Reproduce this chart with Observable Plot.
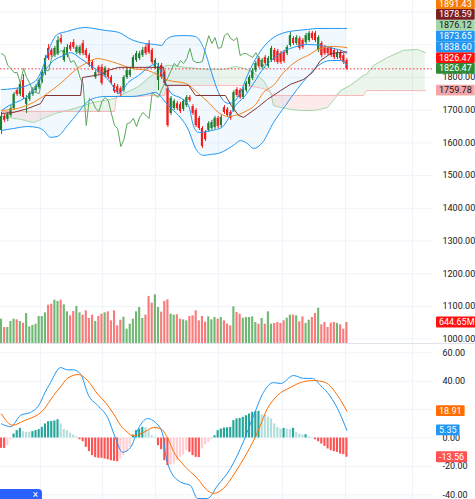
<!DOCTYPE html>
<html><head><meta charset="utf-8">
<script src="https://cdn.jsdelivr.net/npm/d3@7"></script>
<script src="https://cdn.jsdelivr.net/npm/@observablehq/plot@0.6"></script>
<style>
html,body{margin:0;padding:0;background:#fff;}
#wrap{position:relative;width:475px;height:499px;overflow:hidden;font-family:Roboto,"Noto Sans",sans-serif;}
#wrap svg{position:absolute;left:0;}
#sep{position:absolute;left:0;top:343px;width:475px;height:1px;background:#e0e3eb;}
#btn{position:absolute;left:0;top:489px;width:42px;height:14px;background:#2962ff;border-radius:0 4px 0 0;color:#fff;font:10px Roboto,sans-serif;text-align:right;padding-right:4px;box-sizing:border-box;line-height:12px;}
</style></head><body><div id="wrap"><div id="sep"></div><div id="btn">×</div></div>
<script>
// ---------------- candles (bar index 0..110) ----------------
const opens = [1638,1681,1672,1684,1705,1760,1748,1791,1717,1733,
 1748,1760,1769,1788,1812,1889,1883,1867,1873,1919,
 1852,1867,1898,1907,1876,1873,1904,1883,1867,1846,
 1800,1831,1831,1806,1821,1800,1776,1772,1766,1760,
 1800,1806,1831,1852,1858,1867,1892,1904,1883,1831,
 1791,1837,1815,1766,1690,1705,1720,1717,1702,1714,
 1739,1711,1699,1675,1644,1632,1638,1644,1647,1675,
 1653,1708,1702,1693,1699,1763,1760,1739,1760,1779,
 1797,1821,1858,1831,1861,1834,1852,1883,1880,1873,
 1876,1873,1898,1919,1904,1919,1913,1907,1913,1935,
 1935,1883,1904,1892,1889,1889,1883,1861,1876,1867,1852];
const highs = [1693,1687,1693,1714,1754,1766,1785,1809,1745,1757,
 1769,1779,1797,1821,1867,1901,1889,1895,1925,1931,
 1892,1901,1907,1916,1898,1898,1913,1889,1873,1852,
 1821,1837,1840,1834,1828,1806,1782,1779,1772,1806,
 1828,1831,1867,1880,1880,1892,1901,1913,1889,1858,
 1843,1843,1821,1772,1742,1733,1727,1724,1733,1745,
 1745,1717,1705,1681,1650,1638,1665,1669,1681,1681,
 1684,1714,1708,1699,1760,1769,1766,1769,1788,1806,
 1828,1849,1864,1858,1867,1864,1895,1889,1886,1880,
 1883,1898,1938,1925,1928,1925,1919,1935,1941,1941,
 1941,1928,1910,1898,1895,1895,1889,1883,1883,1873,1858];
const lows = [1626,1662,1665,1678,1699,1742,1742,1733,1690,1727,
 1742,1754,1763,1782,1806,1852,1861,1861,1867,1901,
 1846,1861,1880,1886,1870,1867,1867,1858,1831,1821,
 1794,1809,1776,1800,1794,1776,1751,1748,1742,1754,
 1794,1800,1825,1846,1852,1861,1867,1870,1840,1825,
 1760,1794,1776,1647,1684,1699,1699,1690,1696,1708,
 1724,1684,1647,1638,1583,1604,1632,1638,1641,1644,
 1647,1687,1678,1669,1693,1739,1733,1733,1754,1772,
 1791,1815,1828,1825,1837,1828,1846,1846,1840,1840,
 1843,1867,1892,1898,1898,1883,1886,1901,1907,1913,
 1907,1876,1861,1867,1867,1861,1855,1855,1852,1840,1821];
const closes = [1681,1669,1687,1705,1748,1748,1779,1739,1736,1751,
 1763,1772,1791,1815,1858,1858,1867,1889,1913,1907,
 1883,1892,1886,1892,1892,1892,1873,1867,1837,1828,
 1815,1815,1782,1828,1800,1782,1757,1754,1751,1800,
 1821,1821,1861,1873,1873,1883,1873,1876,1846,1852,
 1834,1800,1782,1653,1736,1727,1705,1696,1727,1739,
 1730,1690,1653,1644,1589,1610,1659,1662,1675,1650,
 1678,1693,1684,1675,1754,1745,1739,1763,1782,1800,
 1821,1843,1834,1852,1843,1858,1889,1852,1846,1846,
 1849,1892,1928,1904,1922,1889,1892,1928,1935,1919,
 1913,1922,1867,1873,1873,1867,1861,1876,1858,1846,1826.47];
// volume, millions
const volumes = [747,491,491,675,747,726,675,624,921,512,
 552,593,829,829,941,1176,1207,1330,1289,1330,
 1187,972,849,982,1136,941,870,1003,767,870,
 675,829,900,941,972,696,1003,542,716,808,
 440,593,747,972,1105,767,870,1442,1238,1494,
 1105,962,1289,1340,900,870,880,747,726,696,
 829,849,1003,696,829,655,818,726,798,747,
 798,696,593,542,1125,951,900,777,798,798,
 818,644,593,767,593,972,593,614,644,614,
 696,777,870,870,849,665,818,614,716,798,
 921,1084,573,644,491,624,644,614,573,440,644.65];

// ---------------- indicator lines: [bar index] / [value] ----------------
const bandIdx = [0,3.8,8.3,11.5,13.4,15.6,17.8,21.0,24.2,26.8,29.3,33.1,37.3,41.4,45.9,49.0,51.0,52.2,54.1,56.4,59.6,61.8,64.3,66.9,69.1,72.3,74.2,76.1,78.3,80.3,83.1,86.6,90.4,94.3,97.5,100.6,104.8,108.0,110];
const bandUpper = [1763,1766,1776,1797,1837,1898,1932,1941,1950,1953,1950,1944,1938,1916,1904,1901,1898,1913,1925,1928,1928,1925,1892,1815,1754,1721,1727,1754,1806,1846,1889,1922,1938,1944,1947,1950,1950,1950,1950];
const bandLower = [1638,1644,1650,1647,1638,1617,1620,1653,1690,1721,1736,1742,1742,1742,1748,1754,1739,1724,1705,1684,1638,1583,1562,1565,1568,1583,1595,1607,1598,1583,1601,1662,1714,1766,1803,1834,1852,1852,1838.60];
const midIdx = [0,2.9,6.1,10.2,13.4,16.6,19.7,22.0,25.2,28.3,31.5,34.7,37.3,40.4,43.6,47.8,49.4,51.0,54.1,57.3,59.6,61.1,62.7,66.9,70.1,72.3,74.5,77.1,80.3,83.4,86.6,89.8,93.0,97.5,101.6,105.7,108.9,110];
const midVal = [1699,1717,1730,1760,1815,1852,1867,1876,1858,1837,1815,1785,1751,1785,1806,1837,1843,1812,1751,1736,1714,1653,1632,1638,1647,1675,1714,1739,1782,1828,1858,1880,1892,1901,1898,1889,1880,1873.65];
const maIdx = [0,6.1,10.2,14.6,18.8,24.2,27.4,30.6,33.8,36.9,41.4,46.8,53.2,58.6,62.7,65.9,69.1,72.3,75.5,78.3,80.9,83.4,86.6,89.8,94.3,97.5,101.6,105.7,110];
const maVal = [1699,1708,1724,1751,1782,1828,1846,1858,1852,1843,1828,1821,1791,1782,1751,1724,1693,1681,1687,1699,1717,1754,1776,1815,1852,1867,1889,1895,1891.43];
const kijunIdx = [0,3.8,8.3,12.4,14.0,25.2,25.8,31.5,33.8,37.3,51.6,52.2,59.6,61.8,71.3,73.2,75.5,77.1,81.5,84.7,88.9,92.0,96.2,99.0,101.6,104.8,110];
const kijunVal = [1690,1693,1705,1720,1745,1745,1800,1809,1821,1831,1831,1776,1776,1745,1745,1714,1684,1678,1708,1733,1760,1779,1794,1815,1852,1873,1878.59];
const cloudIdx = [0,6.1,10.2,14.0,17.2,21.0,25.2,29.3,34.7,36.0,36.6,41.1,43.6,47.8,51.0,51.9,52.5,54.1,58.6,65.0,71.3,74.5,77.1,80.3,83.4,85.7,86.6,90.4,95.2,99.4,103.8,106.4,108.0,111.1,115.3,116.2,118.5,122.9,128.0,132.5,135];
const spanA = [1681,1672,1662,1678,1690,1699,1711,1724,1733,1736,1739,1760,1772,1806,1831,1834,1837,1837,1831,1825,1825,1834,1828,1815,1791,1754,1714,1705,1699,1699,1708,1739,1760,1776,1806,1809,1837,1861,1883,1886,1876.12];
const spanB = [1696,1696,1696,1696,1696,1696,1696,1696,1696,1696,1742,1742,1742,1745,1745,1745,1776,1776,1776,1776,1776,1776,1776,1772,1766,1754,1745,1745,1745,1745,1745,1745,1745,1745,1745,1760,1760,1760,1760,1760,1759.78];
const chikouShift = 26;

// MACD pane
const macdIdx = [0,2.9,6.1,9.2,12.4,13.4,15.6,18.8,21.0,22.9,25.2,27.7,30.6,33.8,36.3,38.5,41.1,43.6,46.5,49.0,51.3,52.2,53.8,57.0,60.2,62.4,65.6,68.8,72.9,76.1,80.3,83.4,86.6,88.9,93.0,96.2,99.0,101.6,103.8,107.0,110];
const macdVal = [10,8,16,18,25,30,39,49.6,48,48,45,30,23,14.4,0,-10,-6.7,6.7,13.7,11,3,-11,-23,-31,-33.5,-42.6,-42.6,-33.5,-21.5,-7.4,15.8,32,39,38.4,44,42,42,37,32,20.8,5.35];
const signalIdx = [0,3.5,7.0,13.4,16.6,18.8,21.0,24.5,27.4,30.6,33.1,35.7,37.9,40.1,42.0,45.2,48.4,50.6,52.9,54.8,58.0,62.4,65.6,67.5,70.7,73.9,78.3,81.5,84.7,87.9,92.0,95.2,99.4,103.2,107.0,110];
const signalVal = [17,9,12,20,30,36,42,44.7,40.5,31,25,17,9,4,1.5,3.9,7.4,6.7,0,-9.5,-19,-28.5,-37,-39,-35.5,-26,-10,3.9,20.8,30,35.6,39,40.5,39,30,18.91];
const histVal = [-7.3,-7.3,-5.4,-1.2,2.8,5.2,6.8,4.5,4.0,4.0,
 4.5,5.2,5.9,7.5,9.9,11.5,11.7,12.0,12.9,9.9,
 5.9,5.2,3.5,2.1,0.9,-1.2,-2.6,-6.6,-9.6,-12.4,
 -13.8,-14.3,-14.3,-14.8,-15.3,-16.0,-16.4,-16.7,-14.8,-12.4,
 -9.6,-6.6,2.1,5.2,6.3,7.5,7.3,5.2,1.6,0.5,
 -5.4,-8.2,-16.0,-19.5,-19.0,-18.3,-16.0,-13.6,-12.0,-8.9,
 -10.1,-12.4,-13.6,-13.8,-7.7,-4.9,-3.1,-1.2,1.6,5.2,
 6.3,7.0,7.2,7.5,12.2,13.4,13.8,14.6,15.7,16.9,
 18.1,18.5,18.8,16.2,16.0,14.6,13.4,9.9,7.5,6.3,
 6.8,6.3,6.1,6.8,4.0,2.8,2.1,2.3,0.9,0.5,
 -1.2,-2.6,-4.2,-5.9,-7.7,-8.9,-9.6,-10.1,-11.3,-11.7,-13.56];

// ticks / grid
const priceGrid = [1000,1100,1200,1300,1400,1500,1600,1700,1800,1900,2000];
const priceTickLabels = [1000,1100,1200,1300,1400,1500,1600,1700,1800];
const macdGrid = [60,40,20,0,-20,-40];
const macdTickLabels = [60,40,0,-20,-40];
const timeGrid = [12.4,32.2,49.0,69.1,89.5,109.6,130.9];

// value tags on the right axis (listed bottom to top for stacking)
const priceTags = [
  {value:1759.78, bg:"#f5a5a5", fg:"#131722"},
  {value:1826.47, bg:"#2e8b3a", fg:"#ffffff"},
  {value:1826.47, bg:"#ff1010", fg:"#ffffff"},
  {value:1838.60, bg:"#2196f3", fg:"#ffffff"},
  {value:1873.65, bg:"#2196f3", fg:"#ffffff"},
  {value:1876.12, bg:"#a5d6a7", fg:"#131722"},
  {value:1878.59, bg:"#7b1f22", fg:"#ffffff"},
  {value:1891.43, bg:"#f57c00", fg:"#ffffff"}
];
const volumeTags = [{value:644.65, text:"644.65M", bg:"#ff1010", fg:"#ffffff"}];
const macdTags = [
  {value:-13.56, bg:"#ff5252", fg:"#ffffff"},
  {value:5.35, bg:"#2196f3", fg:"#ffffff"},
  {value:18.91, bg:"#ff6d00", fg:"#ffffff"}
];

// ---------------- styling / layout ----------------
const FONT = "Roboto, 'Noto Sans', sans-serif";
const GRID = "#f0f3fa";
const UP = "#1b7f2e", DOWN = "#f41a1a";
const UPV = "rgba(67,160,71,0.75)", DOWNV = "rgba(246,60,60,0.68)";
const W = 475, MR = 43;
const xDomain = [-0.318, 137.26];

const rows = closes.map((c, i) => ({i, o: opens[i], h: highs[i], l: lows[i], c, v: volumes[i]}));
const isUp = d => d.c >= d.o;
const pts = (idx, val) => idx.map((i, k) => ({i, p: val[k]}));
const bandRows = bandIdx.map((i, k) => ({i, hi: bandUpper[k], lo: bandLower[k]}));
const cloudRows = cloudIdx.map((i, k) => ({i, a: spanA[k], b: spanB[k]}));
const chikouRows = closes.slice(chikouShift).map((p, k) => ({i: k, p}));
const histRows = histVal.map((h, i) => ({i, h, prev: i ? histVal[i - 1] : h}));
const histColor = d => d.h >= 0 ? (d.h > d.prev ? "#26a69a" : "#b2dfdb") : (d.h > d.prev ? "#ffcdd2" : "#ff5252");
const fmt = d => d.toFixed(2);
const style = {fontFamily: FONT, fontSize: "9px", background: "transparent", overflow: "visible"};

const price = Plot.plot({
  width: W, height: 343, marginLeft: 0, marginRight: MR, marginTop: 0, marginBottom: 0,
  x: {domain: xDomain, axis: null},
  y: {domain: [986.5, 2035.5], axis: null},
  color: {type: "identity"},
  style,
  marks: [
    Plot.gridY(priceGrid, {stroke: GRID, strokeOpacity: 1}),
    Plot.gridX(timeGrid, {stroke: GRID, strokeOpacity: 1}),
    Plot.areaY(bandRows, {x: "i", y1: "lo", y2: "hi", fill: "#2196f3", fillOpacity: 0.06, curve: "monotone-x"}),
    Plot.areaY(cloudRows, {x: "i", y1: "b", y2: d => Math.max(d.a, d.b), fill: "#43a047", fillOpacity: 0.1}),
    Plot.areaY(cloudRows, {x: "i", y1: "a", y2: d => Math.max(d.a, d.b), fill: "#e53935", fillOpacity: 0.1}),
    Plot.line(cloudRows, {x: "i", y: "a", stroke: "#a5d6a7", strokeWidth: 1}),
    Plot.line(cloudRows, {x: "i", y: "b", stroke: "#f6b8b8", strokeWidth: 1}),
    Plot.ruleY([closes[closes.length - 1]], {stroke: "#f23645", strokeDasharray: "1.5 2", strokeWidth: 1}),
    Plot.ruleX(rows, {x: "i", y1: "l", y2: "h", stroke: d => isUp(d) ? UP : DOWN, strokeWidth: 1}),
    Plot.rect(rows, {x1: d => d.i - 0.34, x2: d => d.i + 0.34, y1: "o", y2: "c", fill: d => isUp(d) ? UP : DOWN}),
    Plot.line(chikouRows, {x: "i", y: "p", stroke: "#5aa85a", strokeWidth: 1}),
    Plot.line(pts(bandIdx, bandUpper), {x: "i", y: "p", stroke: "#2196f3", strokeWidth: 1, curve: "monotone-x"}),
    Plot.line(pts(bandIdx, bandLower), {x: "i", y: "p", stroke: "#2196f3", strokeWidth: 1, curve: "monotone-x"}),
    Plot.line(pts(midIdx, midVal), {x: "i", y: "p", stroke: "#2196f3", strokeWidth: 1, curve: "monotone-x"}),
    Plot.line(pts(maIdx, maVal), {x: "i", y: "p", stroke: "#f7821b", strokeWidth: 1, curve: "monotone-x"}),
    Plot.line(pts(kijunIdx, kijunVal), {x: "i", y: "p", stroke: "#7f3434", strokeWidth: 1}),
    Plot.axisY(priceTickLabels, {anchor: "right", tickSize: 0, tickPadding: 10, tickFormat: fmt, color: "#131722"})
  ]
});

const VH = 55;
const volume = Plot.plot({
  width: W, height: VH, marginLeft: 0, marginRight: MR, marginTop: 0, marginBottom: 0,
  x: {domain: xDomain, axis: null},
  y: {domain: [0, 1688], axis: null},
  color: {type: "identity"},
  style,
  marks: [
    Plot.rectY(rows, {x1: d => d.i - 0.34, x2: d => d.i + 0.34, y: "v", fill: d => isUp(d) ? UPV : DOWNV})
  ]
});

const macd = Plot.plot({
  width: W, height: 155, marginLeft: 0, marginRight: MR, marginTop: 0, marginBottom: 0,
  x: {domain: xDomain, axis: null},
  y: {domain: [-43.3, 65.85], axis: null},
  color: {type: "identity"},
  style,
  marks: [
    Plot.gridY(macdGrid, {stroke: GRID, strokeOpacity: 1}),
    Plot.gridX(timeGrid, {stroke: GRID, strokeOpacity: 1}),
    Plot.rectY(histRows, {x1: d => d.i - 0.34, x2: d => d.i + 0.34, y: "h", fill: histColor}),
    Plot.line(pts(macdIdx, macdVal), {x: "i", y: "p", stroke: "#2196f3", strokeWidth: 1, curve: "monotone-x"}),
    Plot.line(pts(signalIdx, signalVal), {x: "i", y: "p", stroke: "#ff6d00", strokeWidth: 1, curve: "monotone-x"}),
    Plot.axisY(macdTickLabels, {anchor: "right", tickSize: 0, tickPadding: 10, tickFormat: fmt, color: "#131722"})
  ]
});

const wrap = document.getElementById("wrap");
price.style.top = "0px";
volume.style.top = (343 - VH) + "px";
macd.style.top = "344px";
wrap.prepend(macd); wrap.prepend(volume); wrap.prepend(price);

function addTags(svg, tags, gap) {
  const y = svg.scale("y");
  const x0 = W - MR + 4;
  const g = d3.select(svg).append("g").attr("font-family", FONT).attr("font-size", 9).attr("text-anchor", "start");
  let last = Infinity;
  const placed = tags.map(t => ({...t, py: y.apply(t.value)}))
    .sort((a, b) => b.py - a.py)
    .map(t => { const py = Math.min(t.py, last - gap); last = py; return {...t, py}; });
  for (const t of placed) {
    const r = g.append("rect").attr("x", x0).attr("y", t.py - gap / 2).attr("height", gap).attr("rx", 1).attr("fill", t.bg);
    const tx = g.append("text").attr("x", x0 + 3).attr("y", t.py).attr("dy", "0.35em")
      .attr("fill", t.fg).attr("text-anchor", "start").text(t.text || t.value.toFixed(2));
    r.attr("width", tx.node().getComputedTextLength() + 6);
  }
}
addTags(price, priceTags, 10.8);
addTags(volume, volumeTags, 10.8);
addTags(macd, macdTags, 10.8);
</script></body></html>
